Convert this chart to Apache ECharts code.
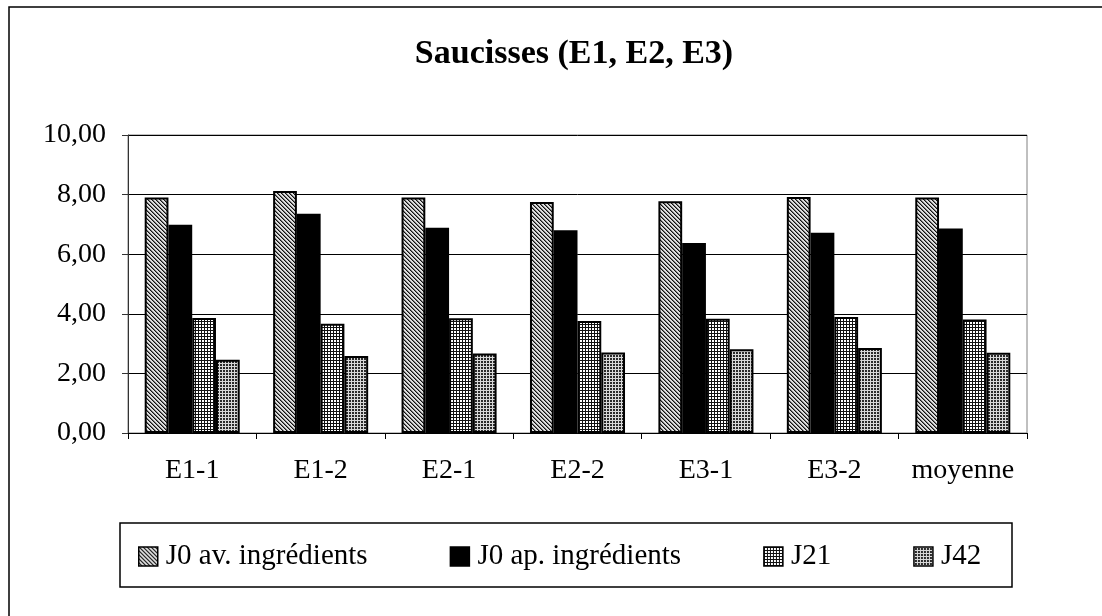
<!DOCTYPE html>
<html>
<head>
<meta charset="utf-8">
<script src="https://cdn.jsdelivr.net/npm/echarts@6/dist/echarts.min.js"></script>
<style>
  html, body { margin: 0; padding: 0; background: #fff; }
  #chart { width: 1102px; height: 616px; }
</style>
</head>
<body>
<div id="chart"></div>
<script>
// données
var categories = ['E1-1', 'E1-2', 'E2-1', 'E2-2', 'E3-1', 'E3-2', 'moyenne'];
var seriesNames = ['J0 av. ingrédients', 'J0 ap. ingrédients', 'J21', 'J42'];
var j0Av = [7.90, 8.12, 7.90, 7.75, 7.78, 7.92, 7.90];
var j0Ap = [6.99, 7.36, 6.89, 6.80, 6.38, 6.72, 6.86];
var j21 = [3.86, 3.67, 3.85, 3.76, 3.83, 3.89, 3.81];
var j42 = [2.46, 2.58, 2.67, 2.70, 2.81, 2.85, 2.69];
var yTicks = ['0,00', '2,00', '4,00', '6,00', '8,00', '10,00'];

var FONT = "'Liberation Serif', 'Times New Roman', serif";

// motifs de remplissage façon Excel
function makePattern(size, fn) {
    var c = document.createElement('canvas');
    c.width = size; c.height = size;
    var ctx = c.getContext('2d');
    for (var y = 0; y < size; y++) {
        for (var x = 0; x < size; x++) {
            ctx.fillStyle = fn(x, y);
            ctx.fillRect(x, y, 1, 1);
        }
    }
    return { image: c, repeat: 'repeat' };
}
var hatch = makePattern(4, function (x, y) {
    var d = (x - y + 8) % 4;
    return d === 0 ? '#111' : (d === 1 ? '#777' : '#e0e0e0');
});
var gridLight = makePattern(3, function (x, y) {
    return (x === 0 || y === 0) ? '#111' : '#fff';
});
var gridDark = makePattern(3, function (x, y) {
    return (x === 0 || y === 0) ? '#d8d8d8' : '#2a2a2a';
});

var fills = [hatch, '#000', gridLight, gridDark];
var values = [j0Av, j0Ap, j21, j42];

var chart = echarts.init(document.getElementById('chart'));

var series = seriesNames.map(function (name, i) {
    return {
        name: name,
        type: 'bar',
        data: values[i],
        barGap: '0%',
        barCategoryGap: '26%',
        itemStyle: {
            color: fills[i],
            borderColor: '#000',
            borderWidth: 2
        },
        emphasis: { disabled: true }
    };
});

var option = {
    animation: false,
    backgroundColor: '#fff',
    title: {
        text: 'Saucisses (E1, E2, E3)',
        left: 569,
        textAlign: 'center',
        top: 32,
        textStyle: { fontFamily: FONT, fontSize: 34, fontWeight: 'bold', color: '#000' }
    },
    grid: {
        left: 128, right: 75, top: 135, bottom: 183,
        show: true, borderColor: '#808080', borderWidth: 1
    },
    legend: {
        data: seriesNames,
        left: 138,
        top: 542,
        padding: 0,
        itemWidth: 19,
        itemHeight: 19,
        itemGap: 82,
        icon: 'rect',
        itemStyle: { borderColor: '#000', borderWidth: 1.5 },
        textStyle: { fontFamily: FONT, fontSize: 29, color: '#000', padding: [0, 0, 0, 3] }
    },
    xAxis: {
        type: 'category',
        data: categories,
        axisLine: { lineStyle: { color: '#000', width: 1 } },
        axisTick: { show: true, length: 6, lineStyle: { color: '#000' } },
        axisLabel: { fontFamily: FONT, fontSize: 28, color: '#000', margin: 24, interval: 0 }
    },
    yAxis: {
        type: 'value',
        min: 0, max: 10, interval: 2,
        axisLine: { show: true, lineStyle: { color: '#333', width: 1 } },
        axisTick: { show: true, length: 6, lineStyle: { color: '#333' } },
        axisLabel: {
            fontFamily: FONT, fontSize: 28, color: '#000', margin: 22,
            formatter: function (v) { return yTicks[Math.round(v / 2)]; }
        },
        splitLine: { show: true, lineStyle: { color: '#000', width: 1 } }
    },
    graphic: [
        { type: 'rect', shape: { x: 9, y: 7, width: 1200, height: 700 },
          style: { fill: 'none', stroke: '#000', lineWidth: 1.5 }, silent: true, z: -1 },
        { type: 'rect', shape: { x: 120, y: 523, width: 892, height: 64 },
          style: { fill: 'none', stroke: '#000', lineWidth: 1.5 }, silent: true, z: -1 }
    ],
    series: series
};

chart.setOption(option);
</script>
</body>
</html>
